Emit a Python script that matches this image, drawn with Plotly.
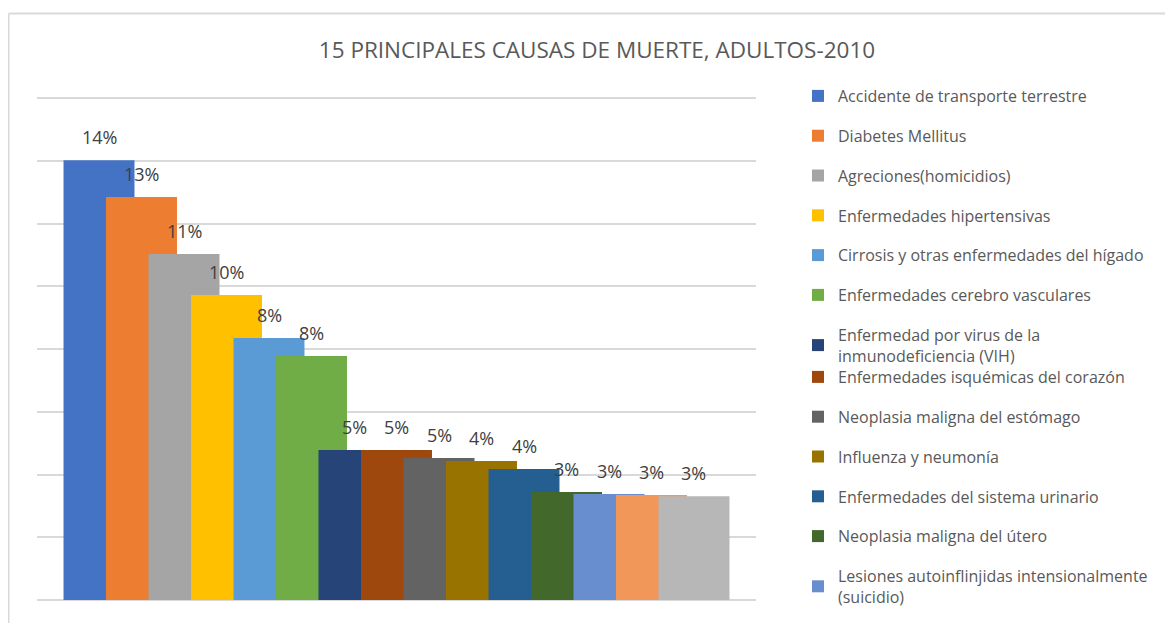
import plotly.graph_objects as go

title = "15 PRINCIPALES CAUSAS DE MUERTE, ADULTOS-2010"
causes = [
    "Accidente de transporte terrestre",
    "Diabetes Mellitus",
    "Agreciones(homicidios)",
    "Enfermedades hipertensivas",
    "Cirrosis y otras enfermedades del hígado",
    "Enfermedades cerebro vasculares",
    "Enfermedad por virus de la<br>inmunodeficiencia (VIH)",
    "Enfermedades isquémicas del corazón",
    "Neoplasia maligna del estómago",
    "Influenza y neumonía",
    "Enfermedades del sistema urinario",
    "Neoplasia maligna del útero",
    "Lesiones autoinflinjidas intensionalmente<br>(suicidio)",
    "Causa 14",
    "Causa 15",
]
values = [14.02, 12.85, 11.03, 9.72, 8.35, 7.78, 4.78, 4.78, 4.53, 4.43, 4.18, 3.44, 3.38, 3.35, 3.31]
labels = ["14%", "13%", "11%", "10%", "8%", "8%", "5%", "5%", "5%", "4%", "4%", "3%", "3%", "3%", "3%"]
colors = ["#4472C4", "#ED7D31", "#A5A5A5", "#FFC000", "#5B9BD5", "#70AD47", "#264478",
          "#9E480E", "#636363", "#997300", "#255E91", "#43682B", "#698ED0", "#F1975A", "#B7B7B7"]
shown_in_legend = 13

FONT = "Open Sans"
W, H = 1165, 615  # page body has an 8px margin
L, R, T, B = 29, 417, 87, 23
PW, PH = W - L - R, H - T - B

fig = go.Figure()
for i, (name, v, c) in enumerate(zip(causes, values, colors)):
    fig.add_trace(go.Bar(
        x=[i], y=[v], width=1.67, name=name, marker=dict(color=c, line=dict(width=0)),
        legendgroup=f"g{i}", showlegend=i < shown_in_legend,
        legend="legend" if i < 7 else "legend2",
    ))
    fig.add_annotation(x=i, y=v, text=labels[i], showarrow=False, yshift=23, yanchor="middle",
                       font=dict(family=FONT, size=18, color="#404040"))

legend_common = dict(font=dict(family=FONT, size=16, color="#595959"), bgcolor="rgba(0,0,0,0)",
                     tracegroupgap=16, xref="container", yref="container", xanchor="left",
                     yanchor="top", x=790 / W, itemclick=False)
fig.update_layout(
    width=W, height=H,
    margin=dict(l=L, r=R, t=T, b=B),
    paper_bgcolor="white", plot_bgcolor="white",
    barmode="overlay",
    title=dict(text=title, x=589 / W, xref="container", xanchor="center", y=1 - 42 / H, yanchor="middle",
               font=dict(family=FONT, size=22.5, color="#595959")),
    xaxis=dict(range=[-1.459, 15.459], showticklabels=False, showgrid=False, zeroline=False, ticks=""),
    yaxis=dict(range=[0, 16.1], dtick=2, showticklabels=False, showgrid=True, gridcolor="#D9D9D9",
               gridwidth=1.5, zeroline=True, zerolinecolor="#D9D9D9", zerolinewidth=1.5, ticks=""),
    legend=dict(**legend_common, y=1 - 71 / H),
    legend2=dict(**legend_common, y=1 - 352 / H),
    showlegend=True,
)
# chart frame (left and top border)
fx = (0.75 - L) / PW
fy = (H - B - 5.5) / PH
fig.add_shape(type="line", xref="paper", yref="paper", x0=fx, x1=fx, y0=fy, y1=-0.2,
              line=dict(color="#D9D9D9", width=1.5))
fig.add_shape(type="line", xref="paper", yref="paper", x0=fx, x1=(W + 10 - L) / PW, y0=fy, y1=fy,
              line=dict(color="#D9D9D9", width=2))

fig.write_html("out.html")
